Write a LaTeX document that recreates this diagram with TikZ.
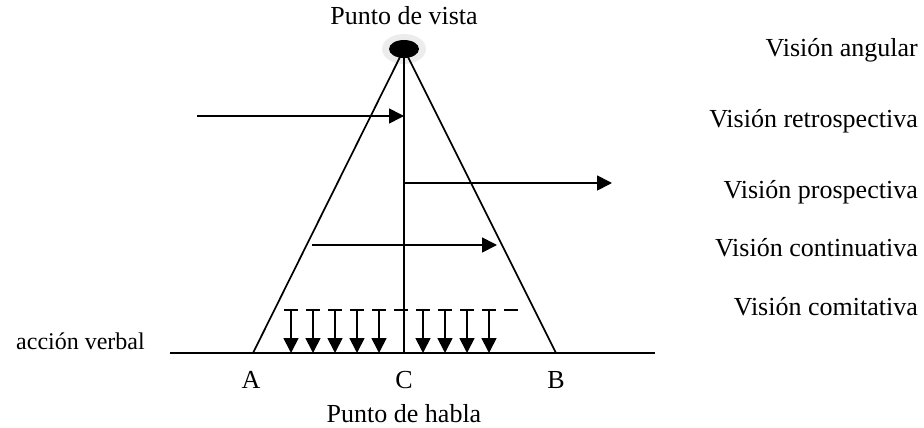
\documentclass[tikz,border=0pt]{standalone}
\usepackage{fontspec}
\setmainfont{Liberation Serif}
\usetikzlibrary{arrows.meta}

\tikzset{
  linea/.style={line width=1.7pt},
  flecha/.style={line width=1.7pt, -{Triangle[length=15pt,width=15pt]}},
  etiqueta/.style={font=\fontsize{26}{30}\selectfont, inner sep=0pt, anchor=base},
  vision/.style={etiqueta, anchor=base east},
}

\begin{document}
\begin{tikzpicture}[x=1pt,y=-1pt]
\useasboundingbox (0,0) rectangle (924,428);

% punto de vista
\fill[gray!15] (404,49) ellipse (22 and 15);
\fill[black] (404,49) ellipse (15 and 9);
\coordinate (V) at (404,49);
\coordinate (A) at (253,353);
\coordinate (B) at (556,353);
\coordinate (C) at (404,353);
\coordinate (izq) at (170,353);
\coordinate (der) at (655,353);

% triangulo y eje
\draw[linea] (A) -- (V) -- (B);
\draw[linea] (V) -- (C);
\draw[linea] (izq) -- (der);

% visiones
\coordinate (r0) at (197,116);
\coordinate (r1) at (404,116);
\draw[flecha] (r0) -- (r1);
\coordinate (p0) at (404,183);
\coordinate (p1) at (612,183);
\draw[flecha] (p0) -- (p1);
\coordinate (c0) at (312,245);
\coordinate (c1) at (497,245);
\draw[flecha] (c0) -- (c1);

% comitativa
\coordinate (d0) at (284,310);
\coordinate (d1) at (518,310);
\draw[linea, dash pattern=on 14pt off 8pt] (d0) -- (d1);
\foreach \x in {291,313,335,357,379,423,445,467,489} {
  \coordinate (t\x) at (\x,310);
  \coordinate (b\x) at (\x,353);
  \draw[flecha] (t\x) -- (b\x);
}

% textos
\node[etiqueta] (vista) at (404,25) {Punto de vista};
\node[etiqueta] (habla) at (404,422) {Punto de habla};
\node[etiqueta] (la) at (251,388) {A};
\node[etiqueta] (lc) at (404,388) {C};
\node[etiqueta] (lb) at (556,388) {B};
\node[etiqueta, font=\fontsize{24}{28}\selectfont, anchor=base west] (accion) at (16,349) {acción verbal};

\node[vision] (v1) at (918,57) {Visión angular};
\node[vision] (v2) at (918,128) {Visión retrospectiva};
\node[vision] (v3) at (918,198) {Visión prospectiva};
\node[vision] (v4) at (918,256) {Visión continuativa};
\node[vision] (v5) at (918,315) {Visión comitativa};
\end{tikzpicture}
\end{document}
